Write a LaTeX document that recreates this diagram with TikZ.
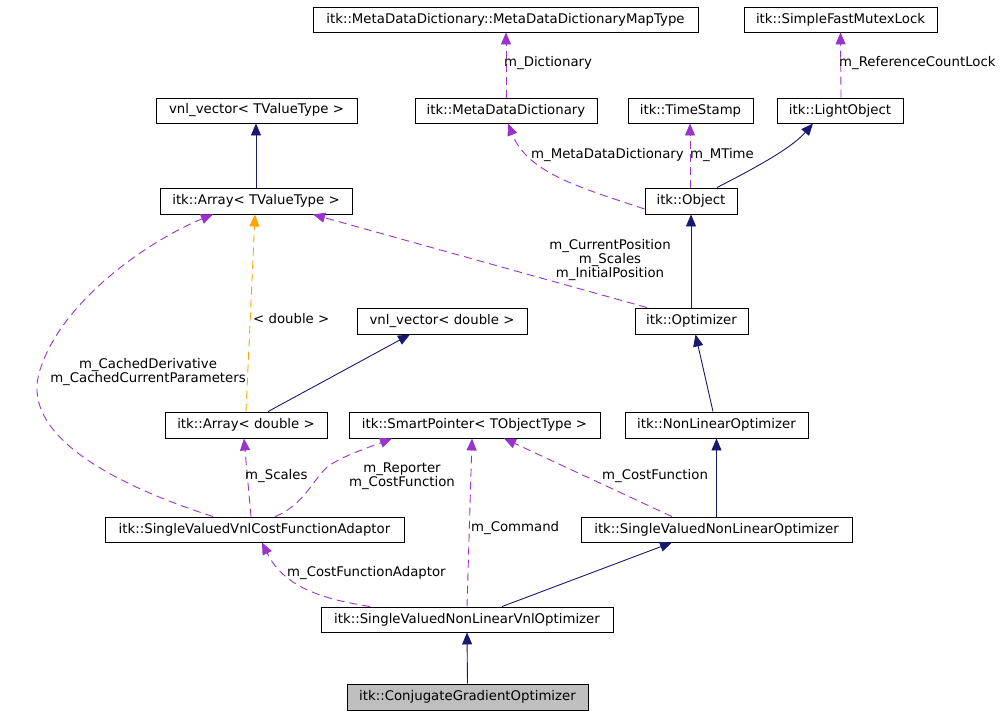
\documentclass[tikz,border=0pt]{standalone}
\usepackage{fontspec}
\setmainfont{DejaVu Sans}
\usetikzlibrary{arrows.meta}
\definecolor{navy}{HTML}{191970}
\definecolor{orchid}{HTML}{9A32CD}
\definecolor{orng}{HTML}{FFA500}
\definecolor{cgfill}{HTML}{BFBFBF}
\begin{document}
\begin{tikzpicture}[x=1pt,y=-1pt,
  font=\fontsize{13.3}{14}\selectfont,
  cls/.style={draw=black,line width=0.9pt,fill=white,inner sep=0pt,minimum height=25pt,anchor=center},
  lbl/.style={inner sep=0pt,align=center},
  inh/.style={draw=navy,line width=0.9pt,-{Triangle[length=12pt,width=10pt]}},
  use/.style={draw=orchid,line width=0.9pt,dash pattern=on 8pt off 5pt,-{Triangle[length=12pt,width=10pt]}},
  tmpl/.style={draw=orng,line width=0.9pt,dash pattern=on 8pt off 5pt,-{Triangle[length=12pt,width=10pt]}}]
\useasboundingbox (0,0) rectangle (1004,715);

% nodes
\node[cls,minimum width=385pt] (map) at (505.5,19.5) {itk::MetaDataDictionary::MetaDataDictionaryMapType};
\node[cls,minimum width=193pt] (mutex) at (840.5,19.5) {itk::SimpleFastMutexLock};
\node[cls,minimum width=201pt] (vnlT) at (256.5,110.5) {vnl\_vector< TValueType >};
\node[cls,minimum width=182pt] (mdd) at (506,110.5) {itk::MetaDataDictionary};
\node[cls,minimum width=125pt] (ts) at (690.5,110.5) {itk::TimeStamp};
\node[cls,minimum width=126pt] (lo) at (840,110.5) {itk::LightObject};
\node[cls,minimum width=192pt,minimum height=26pt] (arrT) at (256,201) {itk::Array< TValueType >};
\node[cls,minimum width=92pt,minimum height=26pt] (obj) at (691,201) {itk::Object};
\node[cls,minimum width=170pt,minimum height=26pt] (vnlD) at (442,321) {vnl\_vector< double >};
\node[cls,minimum width=113pt,minimum height=26pt] (opt) at (691.5,321) {itk::Optimizer};
\node[cls,minimum width=162pt,minimum height=26pt] (arrD) at (246,425) {itk::Array< double >};
\node[cls,minimum width=251pt,minimum height=26pt] (sp) at (474.5,425) {itk::SmartPointer< TObjectType >};
\node[cls,minimum width=183pt,minimum height=26pt] (nlo) at (716.5,425) {itk::NonLinearOptimizer};
\node[cls,minimum width=299pt] (adaptor) at (254.5,529.5) {itk::SingleValuedVnlCostFunctionAdaptor};
\node[cls,minimum width=271pt] (svnlo) at (716.5,529.5) {itk::SingleValuedNonLinearOptimizer};
\node[cls,minimum width=292pt] (vnl) at (467,619.5) {itk::SingleValuedNonLinearVnlOptimizer};
\node[cls,minimum width=241pt,minimum height=26pt,fill=cgfill] (cg) at (467.5,697) {itk::ConjugateGradientOptimizer};

% connectors
\draw[use] (mdd.north) -- ([xshift=0.5pt]map.south);
\draw[use] ([xshift=1pt]lo.north) -- (mutex.south);
\draw[inh] (arrT.north) -- (arrT.north |- vnlT.south);
\draw[use] ([yshift=-8pt]obj.west) .. controls (585,189) and (528,174) .. ([xshift=2pt]mdd.south);
\draw[use] ([xshift=-1pt]obj.north) -- ([xshift=-0.5pt]ts.south);
\draw[inh] ([xshift=26pt]obj.north) .. controls (745,173) and (790,150) .. ([xshift=-27pt]lo.south);
\draw[tmpl] (arrD.north) -- ([xshift=-1pt]arrT.south);
\draw[inh] ([xshift=22pt]arrD.north) -- ([xshift=-32pt]vnlD.south);
\draw[use] ([xshift=-44.5pt]opt.north) -- ([xshift=57pt]arrT.south);
\draw[use] ([xshift=-41.5pt]adaptor.north) .. controls (100,480) and (20,430) .. (40,370)
  .. controls (62,300) and (150,240) .. ([xshift=-43pt]arrT.south);
\draw[use] ([xshift=-3.5pt]adaptor.north) -- ([xshift=-2pt]arrD.south);
\draw[use] ([xshift=20.5pt]adaptor.north) .. controls (305,505) and (315,475) .. (330,465)
  .. controls (345,455) and (375,445) .. ([xshift=-82.5pt]sp.south);
\draw[use] (vnl.north) -- ([xshift=-2.5pt]sp.south);
\draw[use] ([xshift=-44.5pt]svnlo.north) -- ([xshift=29.5pt]sp.south);
\draw[inh] ([xshift=-3.5pt]nlo.north) -- ([xshift=4pt]opt.south);
\draw[inh] (svnlo.north) -- (nlo.south);
\draw[inh] ([xshift=-0.5pt]opt.north) -- (obj.south);
\draw[inh] ([xshift=35pt]vnl.north) -- ([xshift=-44.5pt]svnlo.south);
\draw[use] ([xshift=-97pt]vnl.north) .. controls (330,600) and (285,590) .. ([xshift=7.5pt]adaptor.south);
\draw[inh] (cg.north) -- (vnl.south);

% labels
\node[lbl,anchor=west] (l1) at (504,63) {m\_Dictionary};
\node[lbl,anchor=west] (l2) at (839,63) {m\_ReferenceCountLock};
\node[lbl,anchor=west] (l3) at (531,155) {m\_MetaDataDictionary};
\node[lbl,anchor=west] (l4) at (690,155) {m\_MTime};
\node[lbl,anchor=west] (l5) at (253,319) {< double >};
\node[lbl] (l6) at (610,260) {m\_CurrentPosition\\m\_Scales\\m\_InitialPosition};
\node[lbl] (l7) at (148,372) {m\_CachedDerivative\\m\_CachedCurrentParameters};
\node[lbl,anchor=west] (l8) at (245,476) {m\_Scales};
\node[lbl] (l9) at (402,476.5) {m\_Reporter\\m\_CostFunction};
\node[lbl,anchor=west] (l10) at (602,476) {m\_CostFunction};
\node[lbl,anchor=west] (l11) at (471,528) {m\_Command};
\node[lbl,anchor=west] (l12) at (287,573) {m\_CostFunctionAdaptor};
\end{tikzpicture}
\end{document}
